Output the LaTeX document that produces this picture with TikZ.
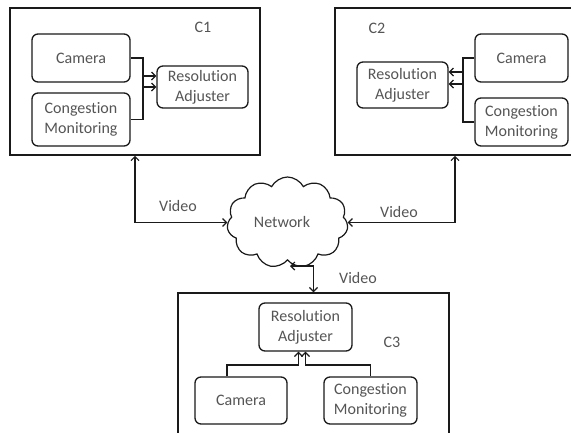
\documentclass[tikz,border=0pt]{standalone}
\usepackage{fontspec}
\setmainfont[Ligatures=NoCommon]{Carlito}
\usetikzlibrary{shapes.symbols,arrows.meta}
\definecolor{txt}{HTML}{555555}
\definecolor{ln}{HTML}{1A1A1A}
\tikzset{
  unit/.style={draw=ln,line width=1.3pt,rounded corners=6pt,text=txt,align=center,
    font=\fontsize{16}{20}\selectfont,inner sep=0pt},
  lbl/.style={text=txt,font=\fontsize{16}{20}\selectfont,inner sep=0pt},
  link/.style={draw=ln,line width=1.2pt,-{Straight Barb[length=4pt,width=8pt]}},
  dlink/.style={draw=ln,line width=1.2pt,{Straight Barb[length=4pt,width=8pt]}-{Straight Barb[length=4pt,width=8pt]}},
}
\begin{document}
\begin{tikzpicture}[x=1pt,y=-1pt]
\useasboundingbox (0,0) rectangle (571,432);
\clip (0,0) rectangle (571,432);
\fill[white] (0,0) rectangle (571,432);
% client boxes
\node[draw=ln,line width=1.5pt,minimum width=250pt,minimum height=147pt,inner sep=0pt] (C1) at (135,81.5) {};
\node[draw=ln,line width=1.5pt,minimum width=240pt,minimum height=147pt,inner sep=0pt] (C2) at (455,81.5) {};
\node[draw=ln,line width=1.5pt,minimum width=271pt,minimum height=150pt,inner sep=0pt] (C3) at (313.5,368) {};
\node[lbl] (l1) at (203,27) {C1};
\node[lbl] (l2) at (377,28) {C2};
\node[lbl] (l3) at (392,342) {C3};
% C1 units
\node[unit,minimum width=98pt,minimum height=48pt] (cam1) at (81,58) {Camera};
\node[unit,minimum width=98pt,minimum height=53pt] (con1) at (81,119.5) {Congestion\\Monitoring};
\node[unit,minimum width=91pt,minimum height=42pt] (ra1) at (202.5,87) {Resolution\\Adjuster};
\coordinate (k1) at (143,0);
\draw[link] (cam1.east) -| (cam1.east -| k1) |- (ra1.west);
\draw[link] (con1.east) -| (con1.east -| k1) |- ([yshift=11pt]ra1.west);
% C2 units
\node[unit,minimum width=93pt,minimum height=48pt] (cam2) at (521.5,58) {Camera};
\node[unit,minimum width=93pt,minimum height=48pt] (con2) at (521.5,122) {Congestion\\Monitoring};
\node[unit,minimum width=91pt,minimum height=46pt] (ra2) at (402.5,85) {Resolution\\Adjuster};
\coordinate (k2) at (463,0);
\draw[link] (cam2.west) -| (cam2.west -| k2) |- ([yshift=1pt]ra2.east);
\draw[link] (con2.west) -| (con2.west -| k2) |- ([yshift=13pt]ra2.east);
% C3 units
\node[unit,minimum width=93pt,minimum height=48pt] (ra3) at (305.5,327) {Resolution\\Adjuster};
\node[unit,minimum width=92pt,minimum height=47pt] (cam3) at (241,400.5) {Camera};
\node[unit,minimum width=93pt,minimum height=47pt] (con3) at (370.5,400.5) {Congestion\\Monitoring};
\coordinate (k3) at (0,365);
\draw[link] ([xshift=-14pt]cam3.north) |- ([xshift=-7pt]ra3.south |- k3) -- ([xshift=-7pt]ra3.south);
\draw[link] (con3.north) |- (ra3.south |- k3) -- (ra3.south);
% network
\node[cloud,cloud puffs=11,cloud puff arc=125,aspect=1.35,draw=ln,line width=1.2pt,
  minimum width=121pt,minimum height=91pt,inner sep=0pt] (net) at (287.5,222.5) {};
\node[lbl] (nt) at (282,222) {Network};
\coordinate (np) at (290,266);
\draw[dlink] (C1.south) |- (net.west);
\draw[dlink] (C2.south) |- (net.east);
\draw[dlink] (C3.north) |- (np);
\node[lbl] (v1) at (178,206) {Video};
\node[lbl] (v2) at (399,212) {Video};
\node[lbl] (v3) at (358,278) {Video};
\end{tikzpicture}
\end{document}
